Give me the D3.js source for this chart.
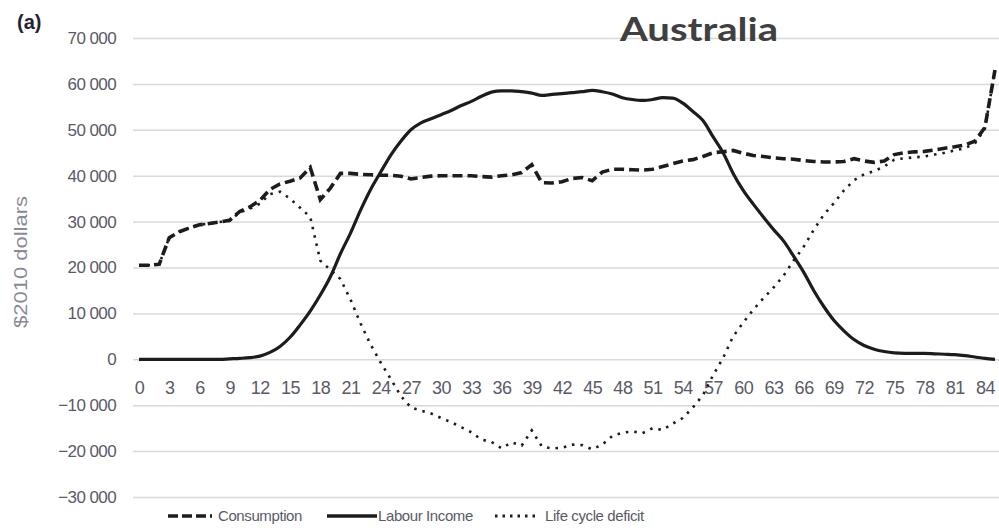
<!DOCTYPE html>
<html>
<head>
<meta charset="utf-8">
<script src="https://cdn.jsdelivr.net/npm/d3@7"></script>
<style>
  html, body { margin: 0; padding: 0; background: #fff; }
  svg { display: block; }
</style>
</head>
<body>
<svg id="chart" width="999" height="528"></svg>
<script>
// ---- Data ----
const ages = d3.range(0, 86);

const consumption = [
  20500, 20500, 20700, 26500, 27800, 28600, 29300, 29600, 29900, 30300,
  32200, 33200, 34600, 37000, 38200, 38800, 39500, 41800, 34800, 37300,
  40500, 40500, 40300, 40200, 40100, 40100, 39900, 39300, 39600, 39900,
  40000, 40000, 40000, 40000, 39800, 39700, 40000, 40200, 40700, 42400,
  38500, 38400, 38700, 39400, 39600, 38900, 40800, 41400, 41400, 41300,
  41200, 41400, 42000, 42600, 43200, 43500, 44200, 45000, 45200, 45500,
  44900, 44400, 44200, 43900, 43700, 43600, 43300, 43100, 43000, 43000,
  43100, 43700, 43200, 42900, 43200, 44600, 45000, 45200, 45300, 45600,
  46000, 46300, 46700, 47500, 50500, 63000
];

const labourIncome = [
  0, 0, 0, 0, 0, 0, 0, 0, 0, 100,
  200, 350, 700, 1500, 2800, 4800, 7500, 10500, 14000, 18000,
  23000, 27500, 32500, 37000, 40800, 44500, 47500, 50000, 51500, 52400,
  53300, 54200, 55300, 56200, 57300, 58200, 58500, 58500, 58300, 58000,
  57500, 57700, 57900, 58100, 58300, 58600, 58300, 57800, 57000, 56600,
  56400, 56600, 57000, 56900, 55800, 54000, 52000, 48500, 45000, 40500,
  36800, 33800, 31000, 28300, 25800, 22500, 19000, 15000, 11500, 8500,
  6200, 4300, 3000, 2200, 1700, 1400, 1300, 1300, 1300, 1200,
  1100, 1000, 800, 500, 200, 0
];

const lifeCycleDeficit = [
  20500, 20500, 20700, 26500, 27800, 28600, 29300, 29600, 29900, 30200,
  32000, 32800, 33900, 36000, 36500, 35000, 33000, 31000, 21500, 19500,
  17500, 13000, 7800, 3200, -700, -4300, -8000, -10500, -11200, -11800,
  -12800, -13700, -14800, -15900, -17500, -18000, -19400, -18100, -18800, -15500,
  -19000, -19400, -19300, -18600, -18700, -19600, -18600, -16700, -16000, -15700,
  -16100, -15000, -15400, -14000, -12800, -10500, -7800, -3500, 300, 5000,
  8000, 10800, 13300, 15600, 18200, 21500, 24500, 28200, 31500, 34000,
  36800, 39000, 40300, 41000, 42000, 43500, 43800, 44000, 44200, 44600,
  45000, 45500, 46000, 47000, 50200, 63000
];

const xTickLabels = [0, 3, 6, 9, 12, 15, 18, 21, 24, 27, 30, 33, 36, 39, 42, 45, 48, 51, 54, 57, 60, 63, 66, 69, 72, 75, 78, 81, 84];
const yTickValues = [70000, 60000, 50000, 40000, 30000, 20000, 10000, 0, -10000, -20000, -30000];

const seriesNames = ["Consumption", "Labour Income", "Life cycle deficit"];

// ---- Layout ----
const svg = d3.select("#chart");
const plot = { left: 134, right: 1000, top: 38, bottom: 497 };

const x = d3.scaleLinear().domain([-0.5, 85.5]).range([plot.left, plot.right]);
const y = d3.scaleLinear().domain([-30000, 70000]).range([plot.bottom, plot.top]);

const locale = d3.formatLocale({ decimal: ".", thousands: " ", grouping: [3], currency: ["$", ""], minus: "\u2212" });
const fmt = locale.format(",d");

const tickColor = "#5a5a66";
const lineColor = "#1c1c1c";
const gridColor = "#d9d9d9";

// Gridlines + y axis labels
const yAxis = d3.axisLeft(y)
  .tickValues(yTickValues)
  .tickFormat(d => fmt(d))
  .tickSize(-(plot.right - plot.left + 1))
  .tickPadding(17);

const yg = svg.append("g")
  .attr("transform", `translate(${plot.left - 1},0)`)
  .call(yAxis);
yg.select(".domain").remove();
yg.selectAll(".tick line").attr("stroke", gridColor).attr("stroke-width", 1.5);
yg.selectAll(".tick text")
  .attr("fill", tickColor)
  .style("font-family", "'Liberation Sans', Arial, sans-serif")
  .style("font-size", "17px")
  .style("letter-spacing", "-0.6px");

// X axis labels (below the zero line)
const xAxis = d3.axisBottom(x)
  .tickValues(xTickLabels)
  .tickFormat(d => String(d))
  .tickSize(0)
  .tickPadding(22);
const xg = svg.append("g")
  .attr("transform", `translate(0,${y(0)})`)
  .call(xAxis);
xg.select(".domain").remove();
xg.selectAll(".tick text")
  .attr("fill", tickColor)
  .style("font-family", "'Liberation Sans', Arial, sans-serif")
  .style("font-size", "18px")
  .style("letter-spacing", "-0.5px");

// ---- Lines ----
const mk = (vals, curve) => d3.line()
  .x((d, i) => x(ages[i]))
  .y(d => y(d))
  .curve(curve)(vals);

svg.append("path")
  .attr("d", mk(lifeCycleDeficit, d3.curveLinear))
  .attr("fill", "none")
  .attr("stroke", lineColor)
  .attr("stroke-width", 2.6)
  .attr("stroke-dasharray", "2.5,6");

svg.append("path")
  .attr("d", mk(labourIncome, d3.curveMonotoneX))
  .attr("fill", "none")
  .attr("stroke", lineColor)
  .attr("stroke-width", 3.2);

svg.append("path")
  .attr("d", mk(consumption, d3.curveLinear))
  .attr("fill", "none")
  .attr("stroke", lineColor)
  .attr("stroke-width", 3.6)
  .attr("stroke-dasharray", "10,5");

// ---- Texts ----
svg.append("text")
  .attr("x", 17).attr("y", 29)
  .attr("fill", "#1f2533")
  .style("font-family", "'Liberation Sans', Arial, sans-serif")
  .style("font-weight", "bold")
  .style("font-size", "20px")
  .text("(a)");

svg.append("text")
  .attr("x", 620).attr("y", 41)
  .attr("fill", "#404040")
  .attr("textLength", 158)
  .attr("lengthAdjust", "spacingAndGlyphs")
  .style("font-family", "Lato, 'Open Sans', sans-serif")
  .style("font-weight", "bold")
  .style("font-size", "33px")
  .text("Australia");

svg.append("text")
  .attr("transform", "translate(27,262) rotate(-90)")
  .attr("text-anchor", "middle")
  .attr("fill", "#8a8a96")
  .style("font-family", "'Liberation Sans', Arial, sans-serif")
  .style("font-size", "19px")
  .attr("textLength", 132)
  .attr("lengthAdjust", "spacingAndGlyphs")
  .text("$2010 dollars");

// ---- Legend ----
const legendY = 516;
const legendItems = [
  { name: seriesNames[0], x1: 168, x2: 212, tx: 218, w: 3.6, dash: "10,4" },
  { name: seriesNames[1], x1: 327, x2: 377, tx: 378, w: 3.6, dash: null },
  { name: seriesNames[2], x1: 495, x2: 538, tx: 545, w: 2.8, dash: "2.5,5" }
];
const lg = svg.append("g");
legendItems.forEach(it => {
  const l = lg.append("line")
    .attr("x1", it.x1).attr("x2", it.x2)
    .attr("y1", legendY).attr("y2", legendY)
    .attr("stroke", lineColor)
    .attr("stroke-width", it.w);
  if (it.dash) l.attr("stroke-dasharray", it.dash);
  lg.append("text")
    .attr("x", it.tx).attr("y", legendY + 5)
    .attr("fill", tickColor)
    .style("font-family", "'Liberation Sans', Arial, sans-serif")
    .style("font-size", "15px")
    .style("letter-spacing", "-0.4px")
    .text(it.name);
});
</script>
</body>
</html>
